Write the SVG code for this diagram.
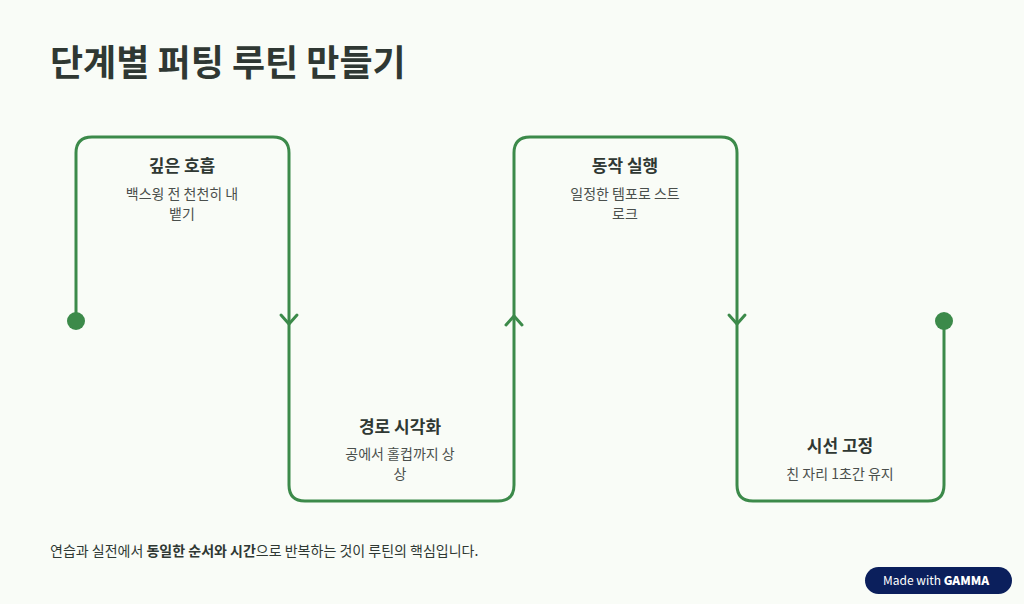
<svg xmlns="http://www.w3.org/2000/svg" width="1024" height="604" viewBox="0 0 1024 604">
<style>
text{font-family:"Noto Sans CJK KR","Noto Sans",sans-serif}
.h{font-size:17px;font-weight:700;fill:#2f3833;text-anchor:middle}
.d{font-size:14px;fill:#4a4f4c;text-anchor:middle}
.ln{fill:none;stroke:#3c8a4a;stroke-width:3;stroke-linecap:round;stroke-linejoin:round}
</style>
<rect width="1024" height="604" fill="#f9fcf7"/>
<text x="50" y="76" font-size="36" font-weight="700" fill="#2f3833">단계별 퍼팅 루틴 만들기</text>
<g id="connectors">
<path class="ln" d="M76 321 V153 Q76 137 92 137 H273 Q289 137 289 153 V485 Q289 501 305 501 H498 Q514 501 514 485 V153 Q514 137 530 137 H721 Q737 137 737 153 V485 Q737 501 753 501 H928 Q944 501 944 485 V321"/>
<path class="ln" d="M281 315 L289 324 L297 315"/>
<path class="ln" d="M506 325 L514 316 L522 325"/>
<path class="ln" d="M729 315 L737 324 L745 315"/>
<circle cx="76" cy="321" r="9" fill="#3c8a4a"/>
<circle cx="944" cy="321" r="9" fill="#3c8a4a"/>
</g>
<g id="step1"><text class="h" x="182" y="172">깊은 호흡</text><text class="d" x="182" y="199">백스윙 전 천천히 내</text><text class="d" x="182" y="219">뱉기</text></g>
<g id="step2"><text class="h" x="400" y="433">경로 시각화</text><text class="d" x="400" y="459">공에서 홀컵까지 상</text><text class="d" x="400" y="479">상</text></g>
<g id="step3"><text class="h" x="625" y="172">동작 실행</text><text class="d" x="625" y="199">일정한 템포로 스트</text><text class="d" x="625" y="219">로크</text></g>
<g id="step4"><text class="h" x="840" y="452">시선 고정</text><text class="d" x="840" y="479">친 자리 1초간 유지</text></g>
<text x="50" y="556" font-size="14" fill="#2f3833">연습과 실전에서 <tspan font-weight="700">동일한 순서와 시간</tspan>으로 반복하는 것이 루틴의 핵심입니다.</text>
<g id="badge"><rect x="865" y="567" width="147" height="27" rx="13.5" fill="#0b1f5c"/><text x="883" y="585" font-size="12" fill="#fff" font-family="Inter,sans-serif">Made with <tspan font-weight="800">GAMMA</tspan></text></g>
</svg>
